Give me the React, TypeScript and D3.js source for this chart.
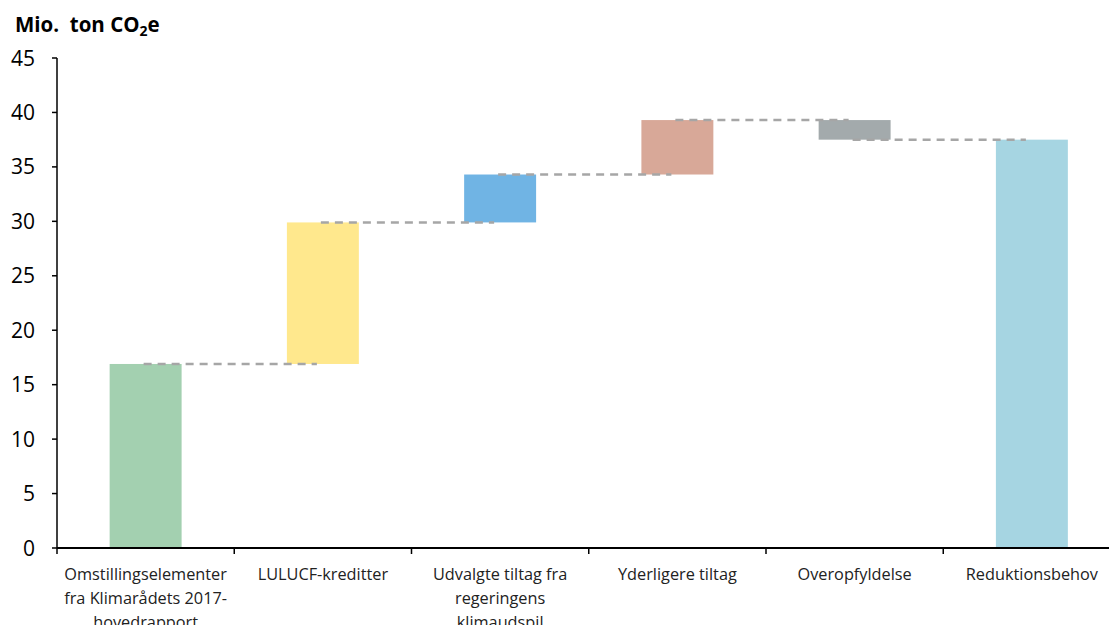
import React from "react";
import * as d3 from "d3";

const categories = [
  ["Omstillingselementer", "fra Klimarådets 2017-", "hovedrapport"],
  ["LULUCF-kreditter"],
  ["Udvalgte tiltag fra", "regeringens", "klimaudspil"],
  ["Yderligere tiltag"],
  ["Overopfyldelse"],
  ["Reduktionsbehov"],
];
// start and end of each floating bar (Mio. ton CO2e)
const barStart = [0, 16.9, 29.9, 34.3, 39.3, 0];
const barEnd = [16.9, 29.9, 34.3, 39.3, 37.5, 37.5];
const barColors = ["#A3D0B0", "#FFE88D", "#70B4E4", "#D8A898", "#A3AAAC", "#A6D5E2"];
const yTicks = [0, 5, 10, 15, 20, 25, 30, 35, 40, 45];

const W = 1109;
const H = 625;
const left = 57;
const top = 58;
const bottom = 548;
const bandW = 177.25;

export default function App() {
  const x = d3
    .scaleBand<number>()
    .domain(categories.map((_, i) => i))
    .range([left, left + bandW * categories.length])
    .paddingInner(0.594)
    .paddingOuter(0.297);
  const y = d3.scaleLinear().domain([0, 45]).range([bottom, top]);
  const font = "'Open Sans', Lato, sans-serif";
  const bw = x.bandwidth();

  return (
    <svg
      width={W}
      height={H}
      style={{ position: "absolute", left: 0, top: 0, background: "#fff" }}
      fontFamily={font}
    >
      <text x={15} y={32} fontSize={20.5} fontWeight="bold" fill="#000">
        Mio.{"\u00a0"} ton CO
        <tspan fontSize={14} dy={4}>2</tspan>
        <tspan dy={-4}>e</tspan>
      </text>

      {categories.map((_, i) => {
        const y0 = y(Math.max(barStart[i], barEnd[i]));
        const y1 = y(Math.min(barStart[i], barEnd[i]));
        return (
          <rect
            key={i}
            x={x(i)!}
            y={y0}
            width={bw}
            height={y1 - y0}
            fill={barColors[i]}
          />
        );
      })}

      {categories.slice(0, -1).map((_, i) => {
        const cx0 = x(i)! + bw / 2;
        const cx1 = x(i + 1)! + bw / 2;
        const yy = y(barEnd[i]);
        return (
          <line
            key={i}
            x1={cx0 - 2}
            x2={cx1 - 6}
            y1={yy}
            y2={yy}
            stroke="#A6A6A6"
            strokeWidth={2.5}
            strokeDasharray="8,6"
          />
        );
      })}

      <line x1={left} x2={left} y1={top} y2={bottom} stroke="#000" strokeWidth={1.5} />
      {yTicks.map((t) => (
        <g key={t}>
          <line x1={left - 5} x2={left} y1={y(t)} y2={y(t)} stroke="#000" strokeWidth={1.5} />
          <text
            x={35}
            y={y(t)}
            dy="0.36em"
            textAnchor="end"
            fontSize={21}
            fill="#000"
          >
            {t}
          </text>
        </g>
      ))}

      <line x1={left} x2={W} y1={bottom} y2={bottom} stroke="#000" strokeWidth={2} />
      {d3.range(categories.length + 1).map((i) => (
        <line
          key={i}
          x1={left + i * bandW}
          x2={left + i * bandW}
          y1={bottom}
          y2={bottom + 6}
          stroke="#000"
          strokeWidth={1.5}
        />
      ))}

      {categories.map((lines, i) => (
        <text
          key={i}
          x={x(i)! + bw / 2}
          y={580}
          textAnchor="middle"
          fontSize={16.3}
          fill="#222"
        >
          {lines.map((l, j) => (
            <tspan key={j} x={x(i)! + bw / 2} dy={j === 0 ? 0 : 24}>
              {l}
            </tspan>
          ))}
        </text>
      ))}
    </svg>
  );
}
